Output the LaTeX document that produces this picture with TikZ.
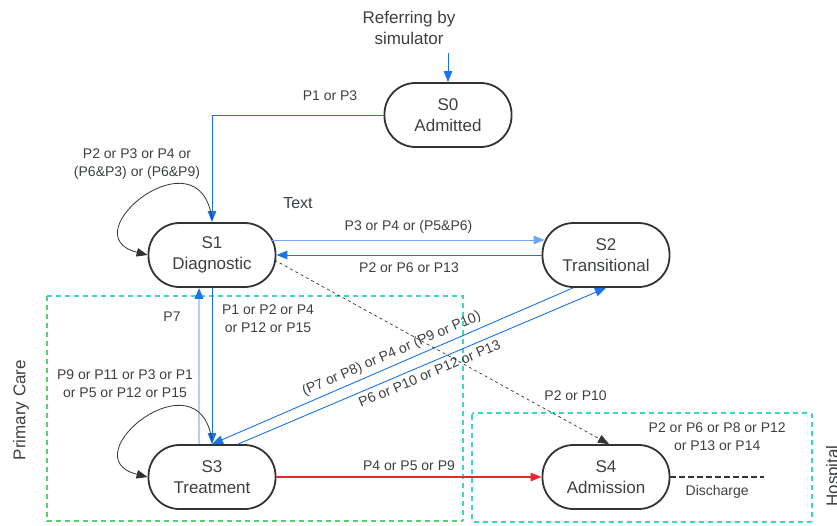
\documentclass[tikz,border=0pt]{standalone}
\usepackage{fontspec}
\setmainfont{Liberation Sans}
\usepackage{xcolor}
\usepackage{tikz}
\usetikzlibrary{arrows.meta}

\definecolor{lineblue}{HTML}{1A73E8}
\definecolor{skyblue}{HTML}{6FA8F0}
\definecolor{paleblue}{HTML}{B4D0F4}
\definecolor{inkgray}{HTML}{333333}
\definecolor{txtgray}{HTML}{3C4043}
\definecolor{boxteal}{HTML}{3DD6C0}
\definecolor{boxgreen}{HTML}{5CCF72}
\definecolor{flowred}{HTML}{E8262B}

\tikzset{
  state/.style={draw=inkgray, line width=1.8pt, rounded corners=31pt,
    minimum width=127pt, minimum height=64pt, align=center, text=txtgray,
    font=\fontsize{17}{21}\selectfont},
  lbl/.style={align=center, text=txtgray, font=\fontsize{14}{18}\selectfont},
  tip/.style={-{Triangle[length=11pt,width=8.5pt]}},
  flow/.style={tip, draw=lineblue, line width=1pt},
  selfloop/.style={tip, draw=inkgray, line width=0.8pt},
  region/.style={line width=1.6pt, dash pattern=on 5pt off 4pt}
}

\begin{document}
\begin{tikzpicture}[x=1pt,y=-1pt]
  \useasboundingbox (0,0) rectangle (837,525);

  % % care regions
  \draw[region, boxteal] (47,296) -- (463,296) -- (463,521);
  \draw[region, boxgreen] (47,296) -- (47,521) -- (463,521);
  \draw[region, boxteal, rounded corners=2pt] (472,413) rectangle (812,522);
  \node[text=txtgray, font=\fontsize{17}{21}\selectfont, rotate=90] (primary) at (21,410) {Primary Care};
  \node[text=txtgray, font=\fontsize{17}{21}\selectfont, rotate=90] (hospital) at (834,476) {Hospital};

  % % states
  \node[state] (s0) at (448,115) {S0\\Admitted};
  \node[state] (s1) at (212,255) {S1\\Diagnostic};
  \node[state] (s2) at (606,255) {S2\\Transitional};
  \node[state] (s3) at (212,477) {S3\\Treatment};
  \node[state] (s4) at (606,477) {S4\\Admission};

  \node[text=txtgray, font=\fontsize{17}{21}\selectfont, align=center] (ref) at (409,28) {Referring by\\simulator};
  \node[text=txtgray, font=\fontsize{16}{20}\selectfont] (txt) at (298,203) {Text};
  \coordinate (refin) at (448,53);
  \coordinate (dis) at (764,477);

  % % transitions
  \draw[flow] (refin) -- (s0.north);
  \draw[flow, line width=0.9pt] (s0.west) -| (s1.north);
  \node[lbl] (l01) at (330,96) {P1 or P3};

  \draw[selfloop] ([yshift=3pt]s1.north) .. controls +(-12,-90) and +(-79,-20) .. (s1.west);
  \node[lbl] (l11) at (137,164) {P2 or P3 or P4 or\\(P6\&P3) or (P6\&P9)};

  \draw[flow, draw=skyblue, line width=0.8pt] ([xshift=-4pt,yshift=15pt]s1.east) -- ([xshift=3pt,yshift=15pt]s2.west)
    node[lbl, midway, above=3pt] (l12) {P3 or P4 or (P5\&P6)};
  \draw[flow] (s2.west) -- (s1.east)
    node[lbl, midway, below=4pt] (l21) {P2 or P6 or P13};

  \draw[tip, draw=paleblue, line width=2.2pt, -{Triangle[length=11pt,width=8.5pt,color=lineblue]}]
    ([xshift=-13pt]s3.north) -- ([xshift=-13pt]s1.south);
  \node[lbl] (l31) at (172,317) {P7};
  \draw[flow, line width=0.8pt] (s1.south) -- (s3.north);
  \node[lbl] (l13) at (268,319) {P1 or P2 or P4\\or P12 or P15};

  \draw[selfloop] ([yshift=3pt]s3.north) .. controls +(-12,-90) and +(-79,-20) .. (s3.west);
  \node[lbl] (l33) at (125,384) {P9 or P11 or P3 or P1\\or P5 or P12 or P15};

  \draw[flow, line width=0.9pt] ([xshift=-33pt]s2.south) -- (s3.north)
    node[lbl, pos=0.49, sloped, above=1pt] (l23) {(P7 or P8) or P4 or (P9 or P10)};
  \draw[flow, line width=0.9pt] ([xshift=26pt]s3.north) -- (s2.south)
    node[lbl, pos=0.51, sloped, below=1pt] (l32) {P6 or P10 or P12 or P13};

  \draw[tip, draw=inkgray, line width=0.7pt, dash pattern=on 3pt off 3pt]
    ([xshift=-2pt,yshift=-5pt]s1.east) -- ([xshift=3pt]s4.north)
    node[lbl, pos=0.9, yshift=30pt] (l14) {P2 or P10};

  \draw[tip, draw=flowred, line width=1.2pt] (s3.east) -- (s4.west)
    node[lbl, midway, above=2pt] (l34) {P4 or P5 or P9};

  \draw[draw=inkgray, line width=1.5pt, dash pattern=on 6pt off 3pt] (s4.east) -- (dis)
    node[lbl, midway, below=4pt] (ldis) {Discharge}
    node[lbl, midway, yshift=40pt] (l44) {P2 or P6 or P8 or P12\\or P13 or P14};
\end{tikzpicture}
\end{document}
